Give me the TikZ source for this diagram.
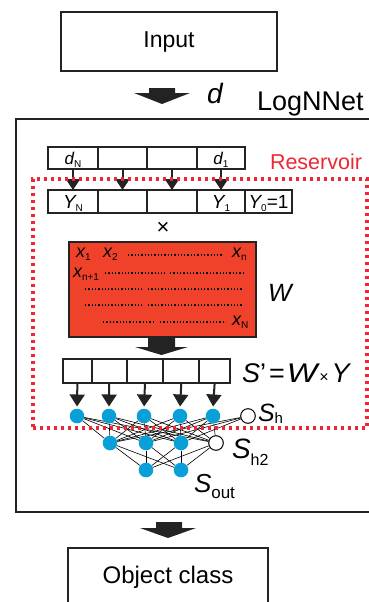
\documentclass[tikz,border=0pt]{standalone}
\usepackage{fontspec}
\usepackage{graphicx}
\setmainfont{Liberation Sans}
\usetikzlibrary{arrows.meta}
\pgfdeclarelayer{bg}
\pgfsetlayers{bg,main}
\definecolor{resred}{RGB}{236,40,52}
\definecolor{matred}{RGB}{240,65,42}
\definecolor{nblue}{RGB}{8,160,214}
\definecolor{dk}{RGB}{35,35,35}
\newcommand\fs[1]{\fontsize{#1}{#1}\selectfont}
\newcommand\lowt[3]{\raisebox{-#1pt}[0pt][0pt]{\fs{#2}#3}}
\begin{document}
\begin{tikzpicture}[x=1pt,y=-1pt,
  box/.style={draw=dk,line width=2.2pt,inner sep=0,outer sep=0},
  cell/.style={draw=dk,line width=1.8pt,inner sep=0,outer sep=0},
  txt/.style={inner sep=0,outer sep=0},
  neuron/.style={circle,fill=nblue,minimum size=14.6pt,inner sep=0},
  bias/.style={circle,draw=black,fill=white,line width=1pt,minimum size=14.6pt,inner sep=0},
  syn/.style={line width=0.6pt,black},
  tip/.style={-{Triangle[width=14pt,length=11pt]},line width=2pt,dk},
  blockarrow/.style={fill=dk},
  dotrow/.style={line width=1.3pt,dash pattern=on 1.3pt off 2pt,black},
  resbox/.style={draw=resred,line width=3.4pt,dash pattern=on 3.4pt off 3.6pt,inner sep=0}]
\useasboundingbox (0,0) rectangle (369,602);
\clip (0,0) rectangle (369,602);

% outer boxes
\node[box,minimum width=216pt,minimum height=59pt,font=\fs{23}] (input) at (169,41.5) {Input};
\node[box,minimum width=359pt,minimum height=393pt] (lognnet) at (195.5,315.5) {};
\node[box,minimum width=200pt,minimum height=58pt,font=\fs{24}] (objclass) at (168,577) {Object class};

% block arrows
\fill[blockarrow] (149,88) -- (175,88) -- (175,93) -- (190,93) -- (162,104) -- (134,93) -- (149,93) -- cycle;
\fill[blockarrow] (156,522) -- (182,522) -- (182,528) -- (196,528) -- (168,538) -- (140,528) -- (156,528) -- cycle;

% labels
\node[txt,anchor=base west] (dlabel) at (207,103) {\fs{28}\itshape d};
\node[txt,anchor=base west] (lognnetlabel) at (257,110) {\fs{27}LogNNet};
\node[txt,anchor=base west,text=resred] (reslabel) at (270,169) {\fs{21.5}Reservoir};

% d row
\node[cell,minimum width=50pt,minimum height=22pt] (d1) at (73,158) {{\fs{17}\itshape d}\lowt{3}{10}{N}};
\node[cell,minimum width=49pt,minimum height=22pt] (d2) at (122.5,158) {};
\node[cell,minimum width=50pt,minimum height=22pt] (d3) at (172,158) {};
\node[cell,minimum width=48pt,minimum height=22pt] (d4) at (221,158) {{\fs{17}\itshape d}\lowt{3}{10}{1}};

% Y row
\node[cell,minimum width=50pt,minimum height=23pt] (y1) at (73,201.5) {{\fs{19}\itshape Y}\lowt{3}{10}{N}};
\node[cell,minimum width=49pt,minimum height=23pt] (y2) at (122.5,201.5) {};
\node[cell,minimum width=50pt,minimum height=23pt] (y3) at (172,201.5) {};
\node[cell,minimum width=48pt,minimum height=23pt] (y4) at (221,201.5) {{\fs{19}\itshape Y}\lowt{3}{10}{1}};
\node[cell,minimum width=47pt,minimum height=23pt] (y5) at (268.5,201.5) {{\fs{19}\itshape Y}\lowt{3}{10}{0}{\fs{19}=1}};

\foreach \i in {1,2,3,4} \draw[tip] (d\i.south) -- (y\i.north);

\node[txt] (times) at (163,228) {\fs{22}×};

% matrix W
\node[box,fill=matred,minimum width=187pt,minimum height=95pt] (wmat) at (162.5,289.5) {};
\node[txt,anchor=base west] (x1) at (76,257) {{\fs{18}\itshape x}\lowt{3}{10}{1}};
\node[txt,anchor=base west] (x2) at (103,257) {{\fs{18}\itshape x}\lowt{3}{10}{2}};
\node[txt,anchor=base west] (xn) at (232,257) {{\fs{18}\itshape x}\lowt{3}{10}{n}};
\node[txt,anchor=base west] (xn1) at (73,277) {{\fs{18}\itshape x}\lowt{3}{10}{n+1}};
\node[txt,anchor=base west] (xN) at (232,325) {{\fs{18}\itshape x}\lowt{3}{10}{N}};
\draw[dotrow] (128,255) -- (223,255);
\draw[dotrow] (105,273) -- (165,273) (170,273) -- (243,273);
\draw[dotrow] (85,289) -- (143,289) (148,289) -- (243,289);
\draw[dotrow] (85,305) -- (143,305) (148,305) -- (243,305);
\draw[dotrow] (103,322) -- (155,322) (160,322) -- (226,322);
\node[txt,anchor=base west] (wlabel) at (268,301) {\fs{25}\itshape W};

\fill[blockarrow] (148,338) -- (175,338) -- (175,347) -- (188,347) -- (161.5,355) -- (135,347) -- (148,347) -- cycle;

% S' row
\node[cell,minimum width=28.7pt,minimum height=24pt] (s1) at (77.35,371) {};
\node[cell,minimum width=35pt,minimum height=24pt] (s2) at (109.2,371) {};
\node[cell,minimum width=36.6pt,minimum height=24pt] (s3) at (145,371) {};
\node[cell,minimum width=36pt,minimum height=24pt] (s4) at (181.3,371) {};
\node[cell,minimum width=30.7pt,minimum height=24pt] (s5) at (214.65,371) {};
\node[txt,anchor=base west] (slabel) at (242,382) {\fs{27}{\itshape S}’\hspace{3pt}=\hspace{2pt}\scalebox{1.2}[1]{\itshape W}\hspace{2pt}{\fs{16}×}\hspace{3pt}{\itshape Y}};

% network
\node[neuron] (a1) at (77,416) {};
\node[neuron] (a2) at (109,416) {};
\node[neuron] (a3) at (144,416) {};
\node[neuron] (a4) at (180,416) {};
\node[neuron] (a5) at (213,416) {};
\node[bias] (h1) at (248,416) {};
\node[neuron] (b1) at (110,443) {};
\node[neuron] (b2) at (146,443) {};
\node[neuron] (b3) at (181,443) {};
\node[bias] (h2) at (216,443) {};
\node[neuron] (c1) at (146,470) {};
\node[neuron] (c2) at (181,470) {};

\foreach \i in {1,...,5} \draw[tip,-{Triangle[width=15pt,length=12pt]},shorten >=2pt] (s\i.south) -- (a\i.north);

\begin{pgfonlayer}{bg}
\foreach \i in {a1,a2,a3,a4,a5,h1} \foreach \j in {b1,b2,b3} \draw[syn] (\i) -- (\j);
\foreach \i in {a1,a2,a3,a4,a5} \draw[syn] (\i) -- (h2);
\foreach \i in {b1,b2,b3,h2} \foreach \j in {c1,c2} \draw[syn] (\i) -- (\j);
\end{pgfonlayer}

\node[txt,anchor=base west] (shlabel) at (258,421) {{\fs{25}\itshape S}\lowt{2}{15}{h}};
\node[txt,anchor=base west] (sh2label) at (232,458) {{\fs{28}\itshape S}\lowt{7}{16}{h2}};
\node[txt,anchor=base west] (soutlabel) at (194,492) {{\fs{26}\itshape S}\lowt{6}{17}{out}};

% reservoir
\node[resbox,minimum width=334pt,minimum height=249pt] (res) at (200,303.5) {};
\end{tikzpicture}
\end{document}
